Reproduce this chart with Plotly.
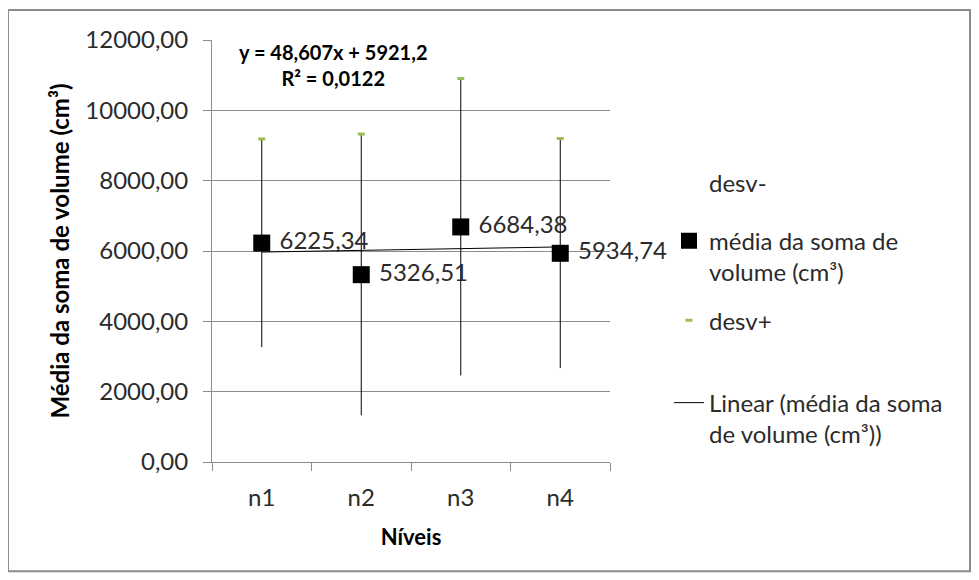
import numpy as np
import plotly.graph_objects as go

niveis = ["n1", "n2", "n3", "n4"]
media = [6225.34, 5326.51, 6684.38, 5934.74]
desvio = [2960, 4000, 4220, 3265]

desv_mais = [m + d for m, d in zip(media, desvio)]
desv_menos = [m - d for m, d in zip(media, desvio)]

xnum = np.arange(1, len(media) + 1)
slope, intercept = np.polyfit(xnum, media, 1)
trend = slope * xnum + intercept
r2 = 1 - np.sum((np.array(media) - trend) ** 2) / np.sum((np.array(media) - np.mean(media)) ** 2)

FONT = "Lato"
TXT = "#2b2b2b"
GRAY = "#8c8c8c"
FS = 24

# page body has an 8px margin: work in screen coordinates and shift
OFF = 8
W, H = 979 - OFF, 580 - OFF
L, T, R, B = 212 - OFF, 40 - OFF, 610 - OFF, 462.5 - OFF
pw, ph = R - L, B - T

def px(x):
    return (x - OFF - L) / pw

def py(y):
    return (B - (y - OFF)) / ph

fig = go.Figure()
fig.add_trace(go.Scatter(
    x=niveis, y=desv_menos, mode="markers", name="desv-", showlegend=True,
    marker=dict(color="rgba(0,0,0,0)", size=4), legend="legend", hoverinfo="skip"))
fig.add_trace(go.Scatter(
    x=niveis, y=media, mode="markers+text", name="média da soma de<br>volume (cm³)", showlegend=True,
    marker=dict(symbol="square", color="black", size=17),
    error_y=dict(type="data", array=desvio, visible=True, color="black", thickness=1, width=0),
    text=["\u00a0" + f"{v:.2f}".replace(".", ",") for v in media],
    textposition="middle right", textfont=dict(family=FONT, size=FS, color=TXT),
    cliponaxis=False, legend="legend2"))
fig.add_trace(go.Scatter(
    x=niveis, y=desv_mais, mode="markers", name="desv+", showlegend=True,
    marker=dict(symbol="line-ew", size=5, line=dict(color="#9bbb59", width=3)),
    legend="legend3"))
fig.add_trace(go.Scatter(
    x=niveis, y=trend, mode="lines", name="Linear (média da soma<br>de volume (cm³))", showlegend=True,
    line=dict(color="black", width=1), legend="legend4"))

eq = (f"y = {slope:.3f}x + {intercept:.1f}".replace(".", ",") + "<br>"
      + f"R² = {r2:.4f}".replace(".", ","))
fig.add_annotation(x=px(333), y=py(65), xref="paper", yref="paper", text=eq,
                   xanchor="center", yanchor="middle",
                   showarrow=False, font=dict(family=FONT, size=20, color="black", weight="bold"),
                   align="center")

fig.add_shape(type="rect", xref="paper", yref="paper",
              x0=px(8), x1=px(970), y0=py(572), y1=py(10),
              line=dict(color=GRAY, width=2))

def leg(ycenter):
    return dict(x=px(669), y=py(ycenter), xanchor="left", yanchor="middle", valign="top",
                font=dict(family=FONT, size=FS, color=TXT), bgcolor="rgba(0,0,0,0)", visible=True)

fig.update_layout(
    width=W, height=H,
    margin=dict(l=L, r=W - R, t=T, b=H - B),
    paper_bgcolor="white", plot_bgcolor="white",
    separators=",.",
    showlegend=True,
    font=dict(family=FONT, size=FS, color=TXT),
    legend=leg(183), legend2=leg(257), legend3=leg(321), legend4=leg(419),
    xaxis=dict(type="category", range=[-0.5, 3.5], showline=True, linecolor=GRAY, linewidth=1,
               ticks="outside", tickson="boundaries", ticklen=8, tickcolor=GRAY, showgrid=False,
               ticklabelstandoff=14,
               title=dict(text="<b>Níveis</b>", font=dict(family=FONT, size=22, color="black"), standoff=19)),
    yaxis=dict(range=[0, 12000], dtick=2000, tickformat=".2f", showgrid=True, gridcolor=GRAY, gridwidth=1,
               showline=True, linecolor=GRAY, linewidth=1, ticks="outside", ticklen=8, tickcolor=GRAY,
               zeroline=False, ticklabelstandoff=10,
               title=dict(text="<b>Média da soma de volume (cm³)</b>", font=dict(family=FONT, size=24, color="black"),
                          standoff=8)),
)

fig.write_html("out.html")
